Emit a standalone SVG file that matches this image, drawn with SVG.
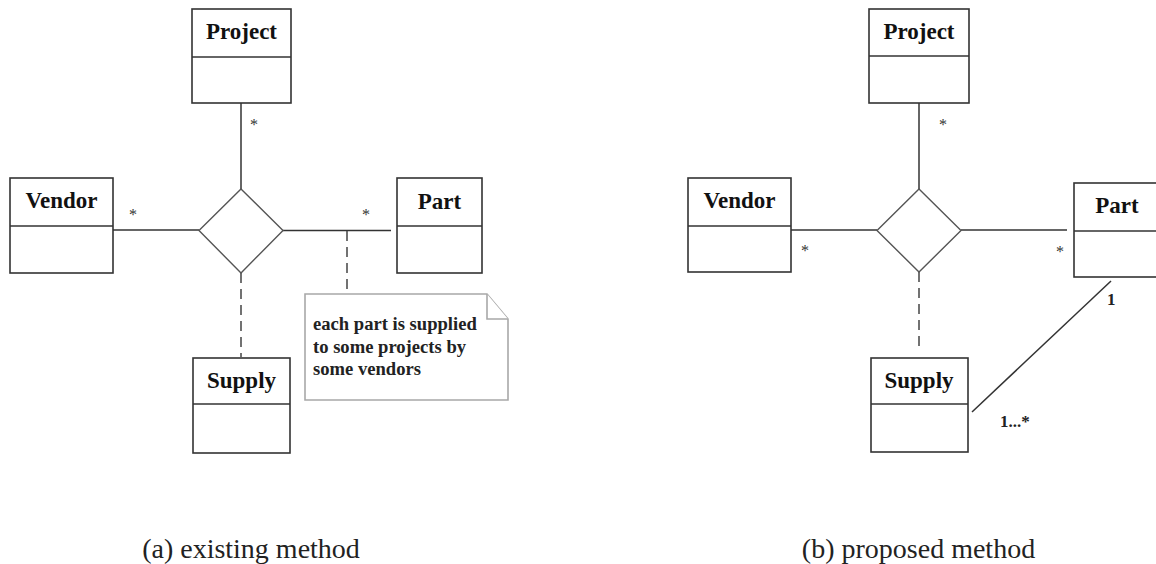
<svg xmlns="http://www.w3.org/2000/svg" width="1156" height="564" viewBox="0 0 1156 564">
  <style>
    .box { fill: #ffffff; stroke: #333333; stroke-width: 1.6; }
    .div { stroke: #333333; stroke-width: 1.6; }
    .title { font-family: "Liberation Serif", "Times New Roman", serif; font-weight: bold; font-size: 23px; fill: #111111; text-anchor: middle; }
    .rel { fill: #ffffff; stroke: #555555; stroke-width: 1.4; }
    .line { stroke: #333333; stroke-width: 1.5; fill: none; }
    .dash { stroke: #444444; stroke-width: 1.5; fill: none; stroke-dasharray: 10 6; }
    .mult { font-family: "Liberation Serif", "Times New Roman", serif; font-size: 16px; fill: #333333; text-anchor: middle; }
    .bmult { font-family: "Liberation Serif", "Times New Roman", serif; font-weight: bold; font-size: 17px; fill: #222222; }
    .note { fill: #ffffff; stroke: #a8a8a8; stroke-width: 1.6; }
    .notetext { font-family: "Liberation Serif", "Times New Roman", serif; font-weight: bold; font-size: 18.6px; fill: #222222; }
    .caption { font-family: "Liberation Serif", "Times New Roman", serif; font-size: 28px; fill: #222222; text-anchor: middle; }
  </style>
  <rect width="1156" height="564" fill="#ffffff"/>

  <!-- connectors -->
  <g id="connectors">
    <!-- (a) -->
    <line class="line" x1="241" y1="103" x2="241" y2="189"/>
    <line class="line" x1="113" y1="230" x2="199" y2="230"/>
    <line class="line" x1="283" y1="230.5" x2="391" y2="230.5"/>
    <line class="dash" x1="347" y1="231" x2="347" y2="294"/>
    <line class="dash" x1="241" y1="273" x2="241" y2="357"/>
    <!-- (b) -->
    <line class="line" x1="919" y1="103" x2="919" y2="189"/>
    <line class="line" x1="791" y1="230" x2="877" y2="230"/>
    <line class="line" x1="961" y1="230" x2="1067" y2="230"/>
    <line class="dash" x1="919" y1="272" x2="919" y2="352"/>
    <line class="line" x1="972" y1="412" x2="1111" y2="281"/>
  </g>

  <!-- multiplicities -->
  <g id="multiplicities">
    <text class="mult" x="254" y="130">*</text>
    <text class="mult" x="133" y="220">*</text>
    <text class="mult" x="366" y="220">*</text>
    <text class="mult" x="943" y="130">*</text>
    <text class="mult" x="805" y="256">*</text>
    <text class="mult" x="1060" y="257">*</text>
    <text class="bmult" x="1107" y="305">1</text>
    <text class="bmult" x="1000" y="427">1...*</text>
  </g>

  <!-- (a) existing method -->
  <g id="a-project">
    <rect class="box" x="192" y="9" width="99" height="94"/>
    <line class="div" x1="192" y1="57" x2="291" y2="57"/>
    <text class="title" x="241.5" y="39">Project</text>
  </g>
  <g id="a-vendor">
    <rect class="box" x="10" y="178" width="103" height="95"/>
    <line class="div" x1="10" y1="226" x2="113" y2="226"/>
    <text class="title" x="61.5" y="208">Vendor</text>
  </g>
  <g id="a-part">
    <rect class="box" x="397" y="178" width="85" height="95"/>
    <line class="div" x1="397" y1="226" x2="482" y2="226"/>
    <text class="title" x="439.5" y="209">Part</text>
  </g>
  <g id="a-supply">
    <rect class="box" x="193" y="358" width="97" height="95"/>
    <line class="div" x1="193" y1="404" x2="290" y2="404"/>
    <text class="title" x="241.5" y="388">Supply</text>
  </g>
  <g id="a-relation">
    <polygon class="rel" points="241,189 283,230.5 241,273 199,230.5"/>
  </g>
  <g id="a-note">
    <path class="note" d="M305,294 H487 L508,319 V400 H305 Z"/>
    <path class="note" d="M487,294 V319 H508" fill="none"/>
    <text class="notetext" x="313" y="330">each part is supplied</text>
    <text class="notetext" x="313" y="353">to some projects by</text>
    <text class="notetext" x="313" y="375">some vendors</text>
  </g>

  <!-- (b) proposed method -->
  <g id="b-project">
    <rect class="box" x="869" y="9" width="100" height="94"/>
    <line class="div" x1="869" y1="56" x2="969" y2="56"/>
    <text class="title" x="919" y="39">Project</text>
  </g>
  <g id="b-vendor">
    <rect class="box" x="688" y="178" width="103" height="94"/>
    <line class="div" x1="688" y1="226" x2="791" y2="226"/>
    <text class="title" x="739.5" y="208">Vendor</text>
  </g>
  <g id="b-part">
    <rect class="box" x="1074" y="183" width="86" height="94"/>
    <line class="div" x1="1074" y1="231" x2="1160" y2="231"/>
    <text class="title" x="1117" y="213">Part</text>
  </g>
  <g id="b-supply">
    <rect class="box" x="871" y="358" width="97" height="94"/>
    <line class="div" x1="871" y1="404" x2="968" y2="404"/>
    <text class="title" x="919" y="388">Supply</text>
  </g>
  <g id="b-relation">
    <polygon class="rel" points="919,189 961,230.5 919,272 877,230.5"/>
  </g>

  <!-- captions -->
  <text class="caption" x="251" y="558">(a) existing method</text>
  <text class="caption" x="918.5" y="558">(b) proposed method</text>
</svg>
